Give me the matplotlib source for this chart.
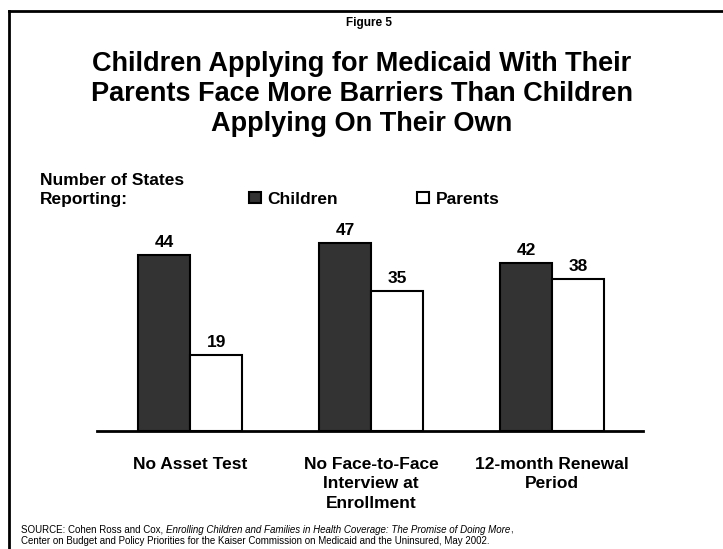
import matplotlib.pyplot as plt
from matplotlib.lines import Line2D

plt.rcParams['font.family'] = ['Liberation Sans', 'DejaVu Sans']

categories = ['No Asset Test', 'No Face-to-Face\nInterview at\nEnrollment', '12-month Renewal\nPeriod']
children = [44, 47, 42]
parents = [19, 35, 38]

W, H = 723, 549
fig = plt.figure(figsize=(W / 100, H / 100), dpi=100)

# axes placed in pixel terms: baseline at y~431, x from 97 to 643
ax = fig.add_axes([97 / W, (H - 431) / H, 546 / W, 199.5 / H])
ax.set_xlim(-0.515, 2.501)
ax.set_ylim(0, 50)

bw = 0.287
x = list(range(len(categories)))
xc = [i - bw / 2 for i in x]
xp = [i + bw / 2 for i in x]
b1 = ax.bar(xc, children, bw, color='#333333', edgecolor='black', linewidth=1.5, label='Children')
b2 = ax.bar(xp, parents, bw, color='white', edgecolor='black', linewidth=1.5, label='Parents')

for xs, vals in ((xc, children), (xp, parents)):
    for xi, v in zip(xs, vals):
        ax.annotate(str(v), (xi, v), xytext=(0, 4), textcoords='offset points',
                    ha='center', va='bottom', fontsize=12.5, fontweight='bold')

for s in ['top', 'right', 'left']:
    ax.spines[s].set_visible(False)
ax.spines['bottom'].set_linewidth(2)
ax.set_yticks([])
ax.set_xticks(x)
ax.set_xticklabels(categories, fontsize=12.5, fontweight='bold', linespacing=1.4)
ax.tick_params(axis='x', length=0, pad=18.5)

# titles
fig.text(369 / W, 1 - 23 / H, 'Figure 5', ha='center', va='center', fontsize=8.5, fontweight='bold')
fig.text(362 / W, 1 - 94 / H,
         'Children Applying for Medicaid With Their\nParents Face More Barriers Than Children\nApplying On Their Own',
         ha='center', va='center', fontsize=19.5, fontweight='bold', linespacing=1.22)

fig.text(40 / W, 1 - 190 / H, 'Number of States\nReporting:', ha='left', va='center',
         fontsize=12.5, fontweight='bold', linespacing=1.3)

leg = fig.legend(handles=[b1, b2], loc='center left', bbox_to_anchor=(233 / W, 1 - 199 / H),
                 ncol=2, frameon=False, prop={'size': 12.5, 'weight': 'bold'},
                 handlelength=0.7, handleheight=0.55, handletextpad=0.35, columnspacing=4.6)

# source note
fs = 7
y1 = 1 - 530 / H
t1 = fig.text(21 / W, y1, 'SOURCE: Cohen Ross and Cox, ', ha='left', va='center', fontsize=fs)
fig.canvas.draw()
bb = t1.get_window_extent()
t2 = fig.text(bb.x1 / W, y1, 'Enrolling Children and Families in Health Coverage: The Promise of Doing More',
              fontsize=fs, style='italic', ha='left', va='center')
fig.canvas.draw()
bb2 = t2.get_window_extent()
fig.text(bb2.x1 / W, y1, ',', ha='left', va='center', fontsize=fs)
fig.text(21 / W, 1 - 541 / H,
         'Center on Budget and Policy Priorities for the Kaiser Commission on Medicaid and the Uninsured, May 2002.',
         ha='left', va='center', fontsize=fs)

# frame lines (top and left)
fig.add_artist(Line2D([9 / W, 1], [1 - 11 / H, 1 - 11 / H], color='black', linewidth=2, transform=fig.transFigure))
fig.add_artist(Line2D([9 / W, 9 / W], [0, 1 - 11 / H], color='black', linewidth=2, transform=fig.transFigure))

fig.savefig('out.png', dpi=100)
